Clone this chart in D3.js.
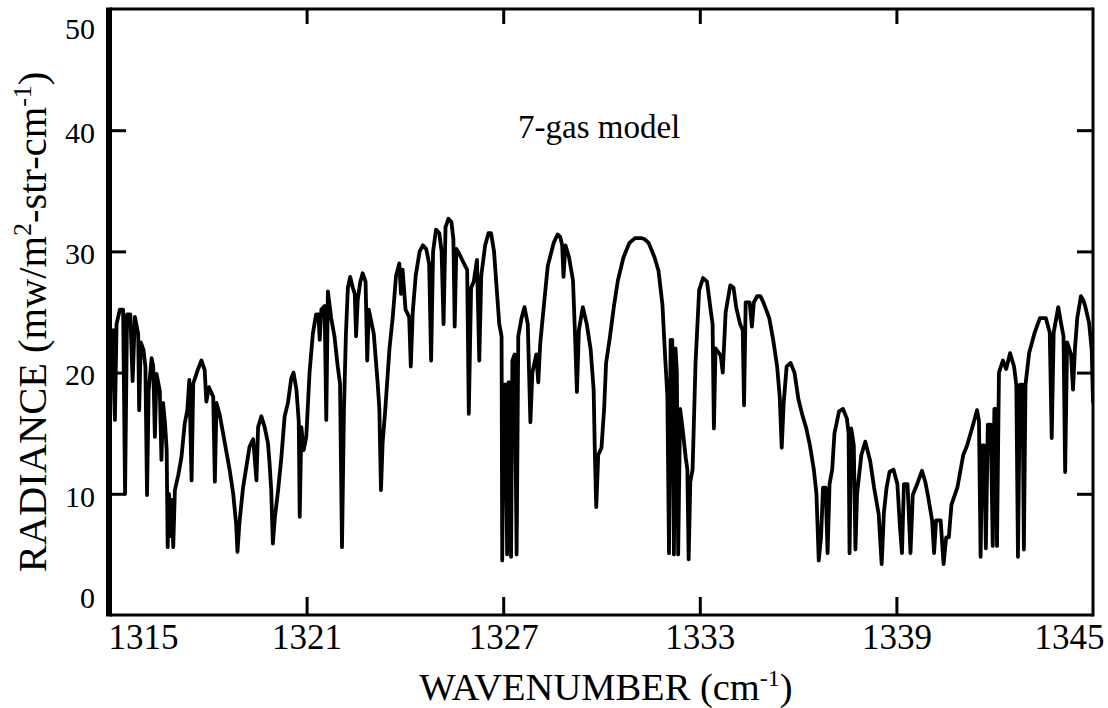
<!DOCTYPE html>
<html>
<head>
<meta charset="utf-8">
<script src="https://cdn.jsdelivr.net/npm/d3@7"></script>
<style>
  html, body { margin: 0; padding: 0; background: #fff; }
  svg { display: block; }
  text { font-family: "Liberation Serif", "Times New Roman", serif; fill: #000; }
</style>
</head>
<body>
<svg id="chart" width="1108" height="708"></svg>
<script>
// ---- data ----
const xTicks = [1315, 1321, 1327, 1333, 1339, 1345];
const yTicks = [0, 10, 20, 30, 40, 50];
const annotation = "7-gas model";

const wavenumber = [
1315.00,1315.03,1315.10,1315.15,1315.20,1315.30,1315.40,1315.46,1315.52,1315.62,
1315.69,1315.76,1315.86,1315.89,1315.94,1316.02,1316.08,1316.13,1316.18,1316.27,
1316.32,1316.37,1316.42,1316.52,1316.57,1316.62,1316.68,1316.73,1316.76,1316.80,
1316.85,1316.89,1316.93,1316.98,1317.08,1317.18,1317.28,1317.36,1317.42,1317.49,
1317.54,1317.69,1317.79,1317.89,1317.94,1318.02,1318.15,1318.20,1318.25,1318.35,
1318.45,1318.55,1318.65,1318.76,1318.85,1318.89,1318.95,1319.06,1319.16,1319.26,
1319.37,1319.47,1319.52,1319.62,1319.72,1319.82,1319.87,1319.92,1319.97,1320.03,
1320.13,1320.23,1320.33,1320.43,1320.53,1320.60,1320.69,1320.76,1320.79,1320.84,
1320.91,1320.99,1321.09,1321.19,1321.29,1321.36,1321.40,1321.45,1321.55,1321.60,
1321.65,1321.75,1321.85,1321.95,1322.02,1322.08,1322.14,1322.20,1322.26,1322.33,
1322.41,1322.47,1322.51,1322.56,1322.64,1322.71,1322.80,1322.85,1322.90,1323.05,
1323.17,1323.22,1323.27,1323.32,1323.40,1323.53,1323.63,1323.73,1323.83,1323.88,
1323.93,1324.02,1324.13,1324.18,1324.24,1324.33,1324.45,1324.55,1324.65,1324.74,
1324.80,1324.86,1324.95,1325.05,1325.12,1325.18,1325.24,1325.33,1325.42,1325.48,
1325.52,1325.57,1325.66,1325.80,1325.90,1325.95,1326.02,1326.10,1326.20,1326.27,
1326.33,1326.45,1326.55,1326.63,1326.72,1326.80,1326.88,1326.95,1326.97,1327.02,
1327.07,1327.12,1327.16,1327.20,1327.24,1327.28,1327.35,1327.41,1327.46,1327.56,
1327.65,1327.75,1327.83,1327.89,1328.01,1328.07,1328.13,1328.24,1328.36,1328.54,
1328.66,1328.74,1328.80,1328.84,1328.90,1329.01,1329.13,1329.19,1329.25,1329.31,
1329.43,1329.55,1329.67,1329.76,1329.80,1329.84,1329.90,1330.00,1330.08,1330.14,
1330.26,1330.38,1330.50,1330.67,1330.85,1331.03,1331.21,1331.32,1331.44,1331.62,
1331.74,1331.86,1331.94,1332.01,1332.06,1332.11,1332.16,1332.21,1332.26,1332.30,
1332.34,1332.40,1332.47,1332.57,1332.62,1332.66,1332.71,1332.78,1332.87,1332.98,
1333.10,1333.22,1333.34,1333.39,1333.43,1333.48,1333.64,1333.70,1333.79,1333.93,
1334.03,1334.11,1334.23,1334.31,1334.35,1334.40,1334.52,1334.59,1334.65,1334.75,
1334.85,1334.94,1335.12,1335.24,1335.36,1335.44,1335.50,1335.56,1335.65,1335.77,
1335.89,1336.01,1336.13,1336.25,1336.36,1336.48,1336.56,1336.63,1336.70,1336.76,
1336.84,1336.90,1336.96,1337.04,1337.11,1337.25,1337.37,1337.49,1337.54,1337.57,
1337.62,1337.70,1337.75,1337.80,1337.93,1338.05,1338.20,1338.32,1338.46,1338.55,
1338.62,1338.70,1338.79,1338.91,1339.03,1339.11,1339.17,1339.23,1339.34,1339.43,
1339.50,1339.66,1339.78,1339.88,1339.96,1340.09,1340.15,1340.21,1340.35,1340.44,
1340.52,1340.60,1340.68,1340.86,1341.04,1341.16,1341.34,1341.46,1341.52,1341.57,
1341.62,1341.68,1341.73,1341.79,1341.88,1341.94,1341.99,1342.03,1342.07,1342.13,
1342.25,1342.35,1342.47,1342.59,1342.66,1342.71,1342.77,1342.85,1342.89,1342.94,
1343.05,1343.22,1343.38,1343.56,1343.68,1343.74,1343.80,1343.94,1344.03,1344.10,
1344.15,1344.21,1344.33,1344.39,1344.45,1344.52,1344.63,1344.70,1344.76,1344.88,
1344.96,1345.00
];

const radiance = [
15.5,21.9,23.5,16.1,24.0,25.2,25.2,10.0,24.8,24.8,
19.3,24.6,23.2,16.9,22.5,21.9,20.5,9.9,18.5,21.2,
20.5,14.7,19.9,18.5,12.8,17.5,15.8,13.6,5.6,10.0,
6.5,9.5,5.6,10.3,11.5,13.0,15.8,16.9,19.4,11.1,
19.1,20.3,21.0,20.2,17.6,18.8,18.0,11.0,17.5,16.5,
15.0,13.5,12.0,10.0,7.5,5.2,7.6,10.5,12.2,13.9,
14.5,11.1,15.5,16.4,15.5,14.2,12.5,10.3,5.9,8.0,
10.3,13.0,16.4,17.5,19.5,20.0,18.6,16.0,8.1,15.5,
13.6,14.7,20.0,23.2,24.8,24.8,22.7,25.2,25.5,16.1,
26.7,24.5,23.0,20.5,19.1,5.6,16.9,23.2,27.0,27.9,
27.0,26.5,23.0,26.0,27.5,28.2,27.5,21.0,25.2,23.2,
19.1,17.0,10.3,14.2,16.9,22.0,24.6,28.0,29.0,26.5,
28.5,25.2,24.6,20.5,25.0,28.0,30.0,30.5,30.2,29.0,
21.0,30.0,31.8,31.5,30.0,24.0,32.0,32.7,32.4,31.0,
23.8,30.2,29.8,29.0,28.5,16.6,27.0,27.5,29.3,21.0,
28.0,30.5,31.5,31.5,30.0,27.0,24.0,23.0,4.5,19.0,
19.0,5.0,19.2,19.2,4.8,21.0,21.5,5.0,23.0,24.5,
25.4,24.0,15.9,20.0,21.5,19.2,22.4,25.5,28.8,30.7,
31.4,31.2,30.5,27.9,30.5,29.5,27.6,23.3,18.4,23.5,
25.4,24.0,21.9,18.6,13.0,8.9,13.2,13.8,17.0,20.8,
23.0,25.5,27.6,29.5,30.7,31.1,31.1,31.0,30.7,29.5,
28.4,25.6,21.4,18.1,5.1,22.7,22.7,5.0,22.0,20.0,
5.0,17.0,15.5,13.0,12.0,4.6,11.0,12.0,20.8,26.8,
27.8,27.5,25.0,24.0,15.4,22.0,21.4,20.0,25.0,27.2,
27.0,25.4,24.0,23.5,17.3,25.8,25.8,23.8,25.8,26.3,
26.3,25.8,24.5,22.7,20.5,18.0,13.8,17.5,20.5,20.8,
20.0,17.8,16.5,15.4,14.0,12.0,10.0,4.5,6.4,10.5,
10.5,5.1,10.8,12.0,15.0,16.8,17.0,16.2,15.0,5.1,
15.4,14.0,5.4,10.0,13.2,14.3,12.7,10.5,8.3,4.2,
8.5,10.5,11.8,12.0,10.8,7.2,5.1,10.8,10.8,5.1,
9.9,11.0,11.9,11.0,9.9,7.8,5.1,7.8,7.8,4.2,
6.4,6.4,9.1,10.5,13.2,14.0,15.7,16.9,16.0,4.8,
14.0,14.0,5.5,15.7,15.7,5.7,17.0,17.0,5.7,20.0,
21.0,20.3,21.6,20.5,19.0,4.8,19.0,19.0,5.4,19.0,
21.6,23.3,24.5,24.5,23.3,14.6,23.3,25.4,24.0,23.0,
11.8,22.5,21.5,18.6,22.0,24.5,26.3,26.0,25.5,24.1,
21.9,17.6
];

// ---- layout ----
const L = 110, R = 1093, T = 9, B = 615;
const svg = d3.select("#chart");

const x = d3.scaleLinear().domain([1315, 1345]).range([L, R]);
const y = d3.scaleLinear().domain([0, 50]).range([B, T]);

svg.append("defs").append("clipPath").attr("id", "plotclip")
  .append("rect").attr("x", L).attr("y", T).attr("width", R - L).attr("height", B - T);

// spectrum
const pts = wavenumber.map((w, i) => [w, radiance[i]]);
svg.append("path")
  .datum(pts)
  .attr("clip-path", "url(#plotclip)")
  .attr("fill", "none")
  .attr("stroke", "#000")
  .attr("stroke-width", 3.8)
  .attr("stroke-linejoin", "round")
  .attr("stroke-linecap", "round")
  .attr("d", d3.line().x(d => x(d[0])).y(d => y(d[1])));

// ---- axes ----
const inner = [10, 20, 30, 40];
const innerX = [1321, 1327, 1333, 1339];

// left axis (labels + inward ticks)
const gl = svg.append("g").attr("transform", `translate(${L},0)`)
  .call(d3.axisLeft(y).tickValues(yTicks).tickSize(-16).tickPadding(15).tickFormat(d3.format("d")));
gl.select(".domain").remove();
gl.selectAll(".tick line").attr("stroke", "#000").attr("stroke-width", 3)
  .filter(d => d === 0 || d === 50).remove();
gl.selectAll(".tick text").attr("font-size", 30).attr("font-family", "Liberation Serif")
  .attr("dy", "0.34em")
  .attr("y", d => d === 50 ? 19 : (d === 0 ? -18 : 2));

// right ticks
const gr = svg.append("g").attr("transform", `translate(${R},0)`)
  .call(d3.axisRight(y).tickValues(inner).tickSize(-16).tickFormat(""));
gr.select(".domain").remove();
gr.selectAll(".tick line").attr("stroke", "#000").attr("stroke-width", 3);

// bottom axis
const gb = svg.append("g").attr("transform", `translate(0,${B})`)
  .call(d3.axisBottom(x).tickValues(xTicks).tickSize(-18).tickPadding(9).tickFormat(d3.format("d")));
gb.select(".domain").remove();
gb.selectAll(".tick line").attr("stroke", "#000").attr("stroke-width", 3)
  .filter(d => d === 1315 || d === 1345).remove();
gb.selectAll(".tick text").attr("font-size", 35).attr("font-family", "Liberation Serif")
  .attr("x", d => d === 1315 ? 33 : (d === 1345 ? -24 : 0));

// top ticks
const gt = svg.append("g").attr("transform", `translate(0,${T})`)
  .call(d3.axisTop(x).tickValues(innerX).tickSize(-15).tickFormat(""));
gt.select(".domain").remove();
gt.selectAll(".tick line").attr("stroke", "#000").attr("stroke-width", 3);

// frame
svg.append("line").attr("x1", L).attr("x2", R).attr("y1", T).attr("y2", T).attr("stroke", "#000").attr("stroke-width", 3);
svg.append("line").attr("x1", L).attr("x2", R).attr("y1", B).attr("y2", B).attr("stroke", "#000").attr("stroke-width", 3);
svg.append("line").attr("x1", R).attr("x2", R).attr("y1", T - 1.5).attr("y2", B + 1.5).attr("stroke", "#000").attr("stroke-width", 3);
svg.append("line").attr("x1", L - 1).attr("x2", L - 1).attr("y1", T - 1.5).attr("y2", B + 1.5).attr("stroke", "#000").attr("stroke-width", 6);

// ---- titles ----
const xt = svg.append("text").attr("x", 606).attr("y", 700)
  .attr("text-anchor", "middle").attr("font-size", 38.5);
xt.append("tspan").text("WAVENUMBER (cm");
xt.append("tspan").attr("dy", -14).attr("font-size", 24).text("-1");
xt.append("tspan").attr("dy", 14).text(")");

const yt = svg.append("text").attr("transform", "translate(46,322) rotate(-90)")
  .attr("text-anchor", "middle").attr("font-size", 40.5);
yt.append("tspan").text("RADIANCE (mw/m");
yt.append("tspan").attr("dy", -15).attr("font-size", 26).text("2");
yt.append("tspan").attr("dy", 15).text("-str-cm");
yt.append("tspan").attr("dy", -15).attr("font-size", 26).text("-1");
yt.append("tspan").attr("dy", 15).text(")");

svg.append("text").attr("x", 518).attr("y", 138).attr("font-size", 33).text(annotation);
</script>
</body>
</html>
